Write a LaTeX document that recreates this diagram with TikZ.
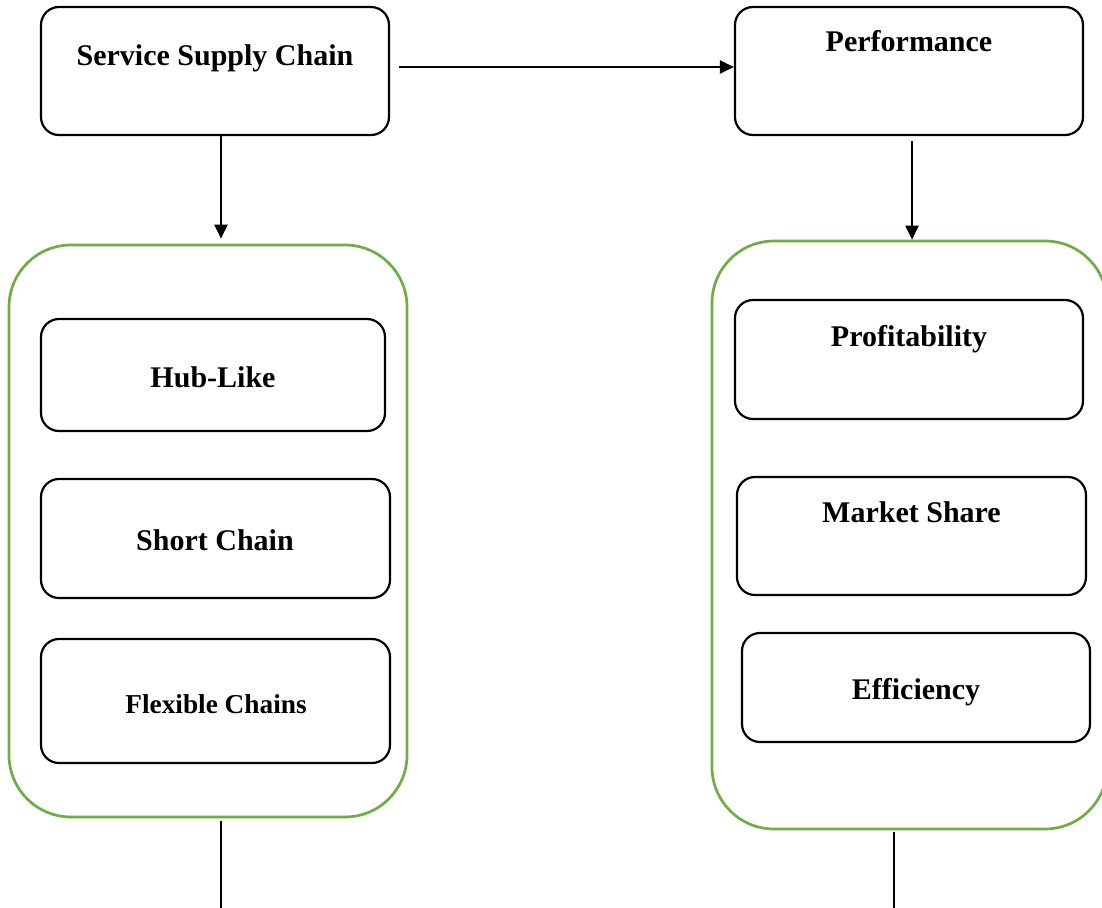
\documentclass[tikz,border=0pt]{standalone}
\usepackage{fontspec}
\setmainfont{Liberation Serif}
\usetikzlibrary{arrows.meta}
\tikzset{
  x=1pt, y=-1pt,
  blackbox/.style={draw=black, line width=2.2pt, rounded corners=18pt, inner sep=0pt},
  greenbox/.style={draw=groupgreen, line width=2.7pt, rounded corners=62pt, inner sep=0pt},
  lbl/.style={font=\bfseries\fontsize{30}{35}\selectfont, inner sep=0pt, anchor=base},
  lblsmall/.style={font=\bfseries\fontsize{27.3}{32}\selectfont, inner sep=0pt, anchor=base},
  arr/.style={line width=2.1pt, -{Triangle[length=14pt,width=13pt]}},
  plain/.style={line width=2.1pt},
  thin/.style={line width=1.3pt}
}
\definecolor{groupgreen}{RGB}{112,173,71}
\begin{document}
\begin{tikzpicture}
\useasboundingbox (0,0) rectangle (1102,907);
\fill[white] (0,0) rectangle (1102,907);
\clip (0,0) rectangle (1102,907);

% group frames
\node[greenbox, minimum width=398pt, minimum height=572pt] (lgroup) at (208,531) {};
\node[greenbox, minimum width=395pt, minimum height=588pt] (rgroup) at (909.5,535) {};

% top level boxes
\node[blackbox, minimum width=348pt, minimum height=128pt] (ssc) at (215,71) {};
\node[blackbox, minimum width=348pt, minimum height=128pt] (perf) at (909,71) {};
\node[lbl] (ssct) at (215,65) {Service Supply Chain};
\node[lbl] (perft) at (909,52) {Performance};

% supply chain types
\node[blackbox, minimum width=344pt, minimum height=112pt] (hub) at (213,375) {};
\node[blackbox, minimum width=349pt, minimum height=119pt] (short) at (215.5,538.5) {};
\node[blackbox, minimum width=349pt, minimum height=124pt] (flex) at (215.5,701) {};
\node[lbl] (hubt) at (213,387) {Hub-Like};
\node[lbl] (shortt) at (215,550) {Short Chain};
\node[lblsmall] (flext) at (216,713) {Flexible Chains};

% performance measures
\node[blackbox, minimum width=348pt, minimum height=119pt] (prof) at (909,359.5) {};
\node[blackbox, minimum width=349pt, minimum height=118pt] (mkt) at (911.5,536) {};
\node[blackbox, minimum width=348pt, minimum height=109pt] (eff) at (916,687.5) {};
\node[lbl] (proft) at (909,346) {Profitability};
\node[lbl] (mktt) at (911.5,522) {Market Share};
\node[lbl] (efft) at (916,699) {Efficiency};

% connectors
\draw[arr, shorten <=9pt] ([yshift=4pt]ssc.east) -- ([yshift=4pt]ssc.east -| perf.west);
\draw[arr, shorten >=5pt] ([xshift=6pt]ssc.south) -- ([xshift=6pt]ssc.south |- lgroup.north);
\draw[arr, shorten <=5pt] ([xshift=3pt]perf.south) -- ([xshift=3pt]perf.south |- rgroup.north);

% open lines below the groups
\coordinate (lend) at (221,910);
\coordinate (rend) at (894,910);
\draw[thin, shorten <=3pt] (lend |- lgroup.south) -- (lend);
\draw[plain, shorten <=2pt] (rend |- rgroup.south) -- (rend);
\end{tikzpicture}
\end{document}
